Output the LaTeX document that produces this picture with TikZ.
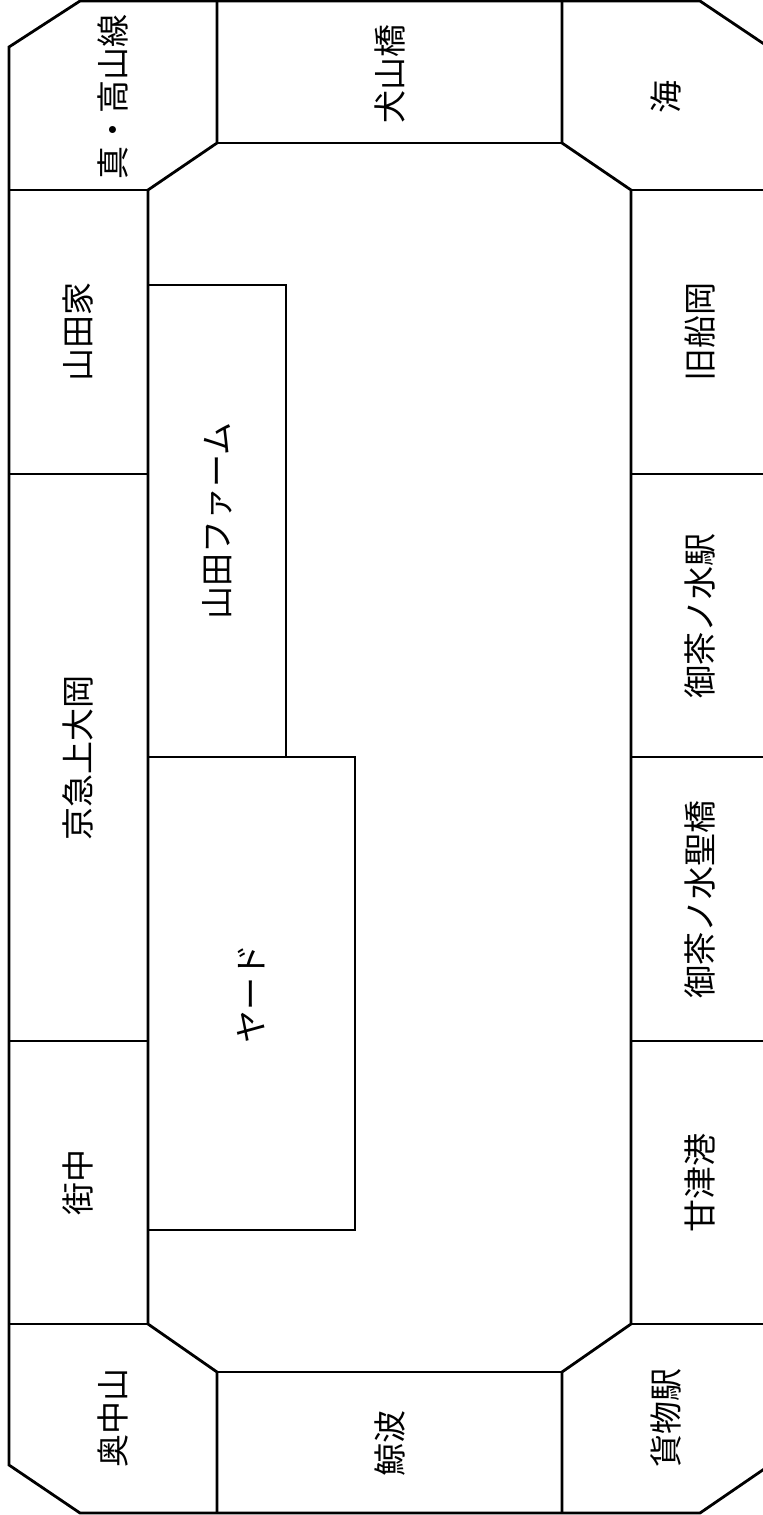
\documentclass[tikz,border=0pt]{standalone}
\usepackage{fontspec}
\newfontfamily\jpfont{Noto Sans CJK JP}
\tikzset{
  wall/.style={line width=1.4pt, line join=miter},
  lbl/.style={font=\jpfont\fontsize{16.5}{16.5}\selectfont, rotate=90, inner sep=0pt}
}
\begin{document}
\begin{tikzpicture}[x=0.5pt,y=-0.5pt]
\useasboundingbox (0,0) rectangle (763,1515);
\clip (0,0) rectangle (763,1515);
% outer boundary
\draw[wall] (80,1)--(700,1)--(770,48)--(770,1465)--(700,1513)--(80,1513)--(9,1465)--(9,47)--cycle;
% inner octagon and corner cells
\draw[wall] (217,1)--(217,143)--(148,190)--(148,1324)--(217,1372)--(217,1513);
\draw[wall] (562,1)--(562,143)--(631,190)--(631,1324)--(562,1372)--(562,1513);
\draw[wall] (217,143)--(562,143);
\draw[wall] (217,1372)--(562,1372);
\draw[wall] (9,190)--(148,190);
\draw[wall] (631,190)--(770,190);
\draw[wall] (9,1324)--(148,1324);
\draw[wall] (631,1324)--(770,1324);
% left dividers
\draw[wall] (9,474)--(148,474);
\draw[wall] (9,1041)--(148,1041);
% right dividers
\draw[wall] (631,474)--(770,474);
\draw[wall] (631,757)--(770,757);
\draw[wall] (631,1041)--(770,1041);
% inner boxes
\draw[wall] (148,285)--(286,285)--(286,757);
\draw[wall] (148,757)--(355,757)--(355,1230)--(148,1230);
% labels
\node[lbl] (n1) at (113,97) {真・高山線};
\node[lbl] (n2) at (389.5,74) {犬山橋};
\node[lbl] (n3) at (666,97) {海};
\node[lbl] (n4) at (78,332) {山田家};
\node[lbl] (n5) at (78,757.5) {京急上大岡};
\node[lbl] (n6) at (78,1182.5) {街中};
\node[lbl] (n7) at (113,1418) {奥中山};
\node[lbl] (n8) at (389.5,1443) {鯨波};
\node[lbl] (n9) at (666,1418) {貨物駅};
\node[lbl] (n10) at (700,332) {旧船岡};
\node[lbl] (n11) at (700,615.5) {御茶ノ水駅};
\node[lbl] (n12) at (700,899) {御茶ノ水聖橋};
\node[lbl] (n13) at (700,1182.5) {甘津港};
\node[lbl] (n14) at (217,521) {山田ファーム};
\node[lbl] (n15) at (251.5,993.5) {ヤード};
\end{tikzpicture}
\end{document}
